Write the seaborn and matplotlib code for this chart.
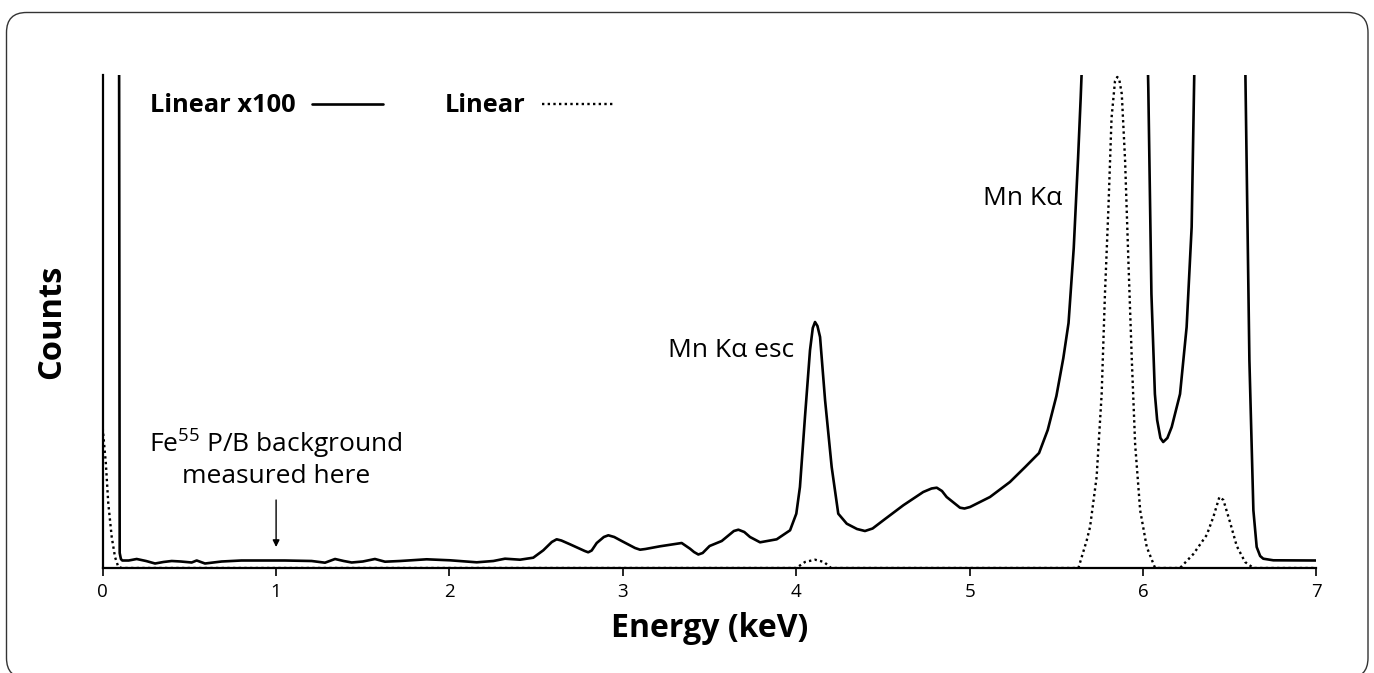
import numpy as np
import pandas as pd
import matplotlib
matplotlib.use("Agg")
import matplotlib.pyplot as plt
import seaborn as sns
from matplotlib.patches import FancyBboxPatch

# ---------------- data ----------------
# "Linear x100" spectrum (solid); values above the axis top are clipped
solid_energy = [0.000, 0.098, 0.105, 0.113, 0.150, 0.196, 0.250, 0.302, 0.350, 0.398,
                0.450, 0.513, 0.542, 0.590, 0.640, 0.686, 0.800, 0.917, 1.050, 1.205,
                1.282, 1.340, 1.390, 1.436, 1.500, 1.570, 1.628, 1.715, 1.868, 2.003,
                2.157, 2.253, 2.320, 2.407, 2.483, 2.541, 2.590, 2.618, 2.645, 2.695,
                2.780, 2.800, 2.820, 2.849, 2.890, 2.916, 2.950, 2.993, 3.070, 3.099,
                3.130, 3.214, 3.339, 3.387, 3.410, 3.435, 3.460, 3.500, 3.570, 3.640,
                3.666, 3.700, 3.733, 3.791, 3.887, 3.964, 4.000, 4.021, 4.050, 4.079,
                4.095, 4.108, 4.122, 4.137, 4.166, 4.204, 4.242, 4.291, 4.350, 4.396,
                4.440, 4.502, 4.617, 4.732, 4.780, 4.810, 4.840, 4.867, 4.944, 4.970,
                5.002, 5.117, 5.232, 5.320, 5.400, 5.450, 5.500, 5.540, 5.570, 5.600,
                5.625, 5.640, 5.660, 5.850, 6.010, 6.030, 6.048, 6.068, 6.081, 6.100,
                6.116, 6.140, 6.165, 6.213, 6.251, 6.280, 6.295, 6.310, 6.440, 6.580,
                6.590, 6.613, 6.636, 6.655, 6.675, 6.693, 6.751, 7.000]
solid_counts = [14000, 15, 9, 7.5, 7.5, 9, 7, 4.5, 6, 7,
                6.5, 5.5, 7.5, 4.5, 5.5, 6.5, 7.5, 7.5, 7.5, 7,
                5.3, 9, 7, 5.5, 6.5, 9, 6.3, 7, 8.7, 7.7,
                5.7, 7, 9.3, 8.3, 10.3, 17.7, 26, 28.7, 27.5, 23.7,
                17, 15.7, 17.5, 25, 31, 32.7, 31, 27, 20, 18.3,
                19, 21.7, 25, 19.3, 16, 13.5, 15, 22, 27, 37,
                38.3, 36, 31, 25.7, 28.7, 37.7, 54.3, 81, 151, 217.7,
                240, 246, 242, 231, 167.7, 101, 54.3, 44.3, 39, 37,
                39.5, 47.7, 62.7, 76, 79.5, 80.3, 77, 71, 60.3, 59.5,
                61, 71, 86, 101, 115, 138, 172, 210, 245, 320,
                410, 470, 560, 49000, 650, 480, 274, 174, 148, 130,
                126, 130, 141, 174, 241, 341, 493, 600, 7100, 600,
                493, 207.7, 57.7, 21, 12, 9.3, 7.7, 7.5]

# "Linear" spectrum (dotted)
dotted_energy = [0.000, 0.018, 0.032, 0.052, 0.071, 0.090, 0.110, 4.000, 4.050, 4.108,
                 4.160, 4.200, 5.627, 5.675, 5.694, 5.732, 5.761, 5.780, 5.800, 5.818,
                 5.838, 5.851, 5.862, 5.877, 5.896, 5.915, 5.935, 5.954, 5.983, 6.021,
                 6.069, 6.213, 6.290, 6.367, 6.405, 6.440, 6.463, 6.501, 6.540, 6.588,
                 6.636, 7.000]
dotted_counts = [140, 105, 65, 31, 11, 1, 0, 0, 6, 8.3,
                 6, 0, 0, 27.7, 41, 91, 174, 274, 360, 450,
                 487, 491, 489, 474, 408, 308, 207.7, 124, 57.7, 21,
                 0, 0, 14, 33, 51, 71, 68, 46, 22, 6,
                 0, 0]

x_ticks = [0, 1, 2, 3, 4, 5, 6, 7]
y_top = 493

solid_df = pd.DataFrame({"Energy": solid_energy, "Counts": solid_counts})
dotted_df = pd.DataFrame({"Energy": dotted_energy, "Counts": dotted_counts})

# ---------------- style ----------------
sns.set_theme(style="white")
plt.rcParams["font.family"] = ["Open Sans", "DejaVu Sans"]
plt.rcParams["mathtext.fontset"] = "custom"
plt.rcParams["mathtext.rm"] = "Open Sans"
plt.rcParams["text.color"] = "black"
plt.rcParams["axes.labelcolor"] = "black"

W, H = 1374, 673
fig = plt.figure(figsize=(W / 100, H / 100), dpi=100)
fig.patch.set_facecolor("white")

ax = fig.add_axes([102.7 / W, 1 - 568 / H, (1316.5 - 102.7) / W, (568 - 75) / H])
ax.set_facecolor("white")

sns.lineplot(data=solid_df, x="Energy", y="Counts", ax=ax, color="black",
             linewidth=1.9, sort=False, estimator=None, label="Linear x100")
sns.lineplot(data=dotted_df, x="Energy", y="Counts", ax=ax, color="black",
             linewidth=1.7, linestyle=(0, (1, 1.4)), sort=False, estimator=None,
             label="Linear")

ax.set_xlim(0, 7)
ax.set_ylim(0, y_top)
ax.set_xticks(x_ticks)
ax.set_xticklabels([str(t) for t in x_ticks])
ax.set_yticks([])
ax.tick_params(axis="x", bottom=True, direction="out", length=6, width=1.2,
               color="black", labelsize=13.5, pad=5, labelcolor="black")
for s in ["top", "right"]:
    ax.spines[s].set_visible(False)
for s in ["left", "bottom"]:
    ax.spines[s].set_color("black")
    ax.spines[s].set_linewidth(1.6)

ax.set_xlabel("Energy (keV)", fontsize=23, fontweight="bold", labelpad=8, color="black")
ax.set_ylabel("Counts", fontsize=23.5, fontweight="bold", labelpad=25, color="black")

handles, labels = ax.get_legend_handles_labels()
leg = ax.legend(handles, labels, markerfirst=False, ncol=2, frameon=False,
                handlelength=2.8, handletextpad=0.65, columnspacing=2.4, borderpad=0,
                borderaxespad=0, loc="center left",
                bbox_to_anchor=(150 / W, 1 - 106 / H), bbox_transform=fig.transFigure,
                prop={"weight": "bold", "size": 18.3})
for t in leg.get_texts():
    t.set_color("black")

# annotations
ax.text(3.99, 211, "Mn K\u03b1 esc", ha="right", va="baseline", fontsize=19, color="black")
ax.text(5.532, 363, "Mn K\u03b1", ha="right", va="baseline", fontsize=19, color="black")
ax.text(1.0, 116, r"Fe$^{\mathregular{55}}$ P/B background", ha="center", va="baseline",
        fontsize=19, color="black")
ax.text(1.0, 85, "measured here", ha="center", va="baseline", fontsize=19, color="black")
ax.annotate("", xy=(1.0, 21), xytext=(1.0, 68),
            arrowprops=dict(arrowstyle="-|>", color="black", lw=1.0,
                            mutation_scale=10, shrinkA=0, shrinkB=0))

# rounded frame around the figure
frame = FancyBboxPatch((0.065, -0.05), 13.615, 6.655,
                       boxstyle="round,pad=0,rounding_size=0.2",
                       transform=fig.dpi_scale_trans, facecolor="none",
                       edgecolor="#333333", linewidth=1.0, clip_on=False)
fig.patches.append(frame)

fig.savefig("out.png", dpi=100)
